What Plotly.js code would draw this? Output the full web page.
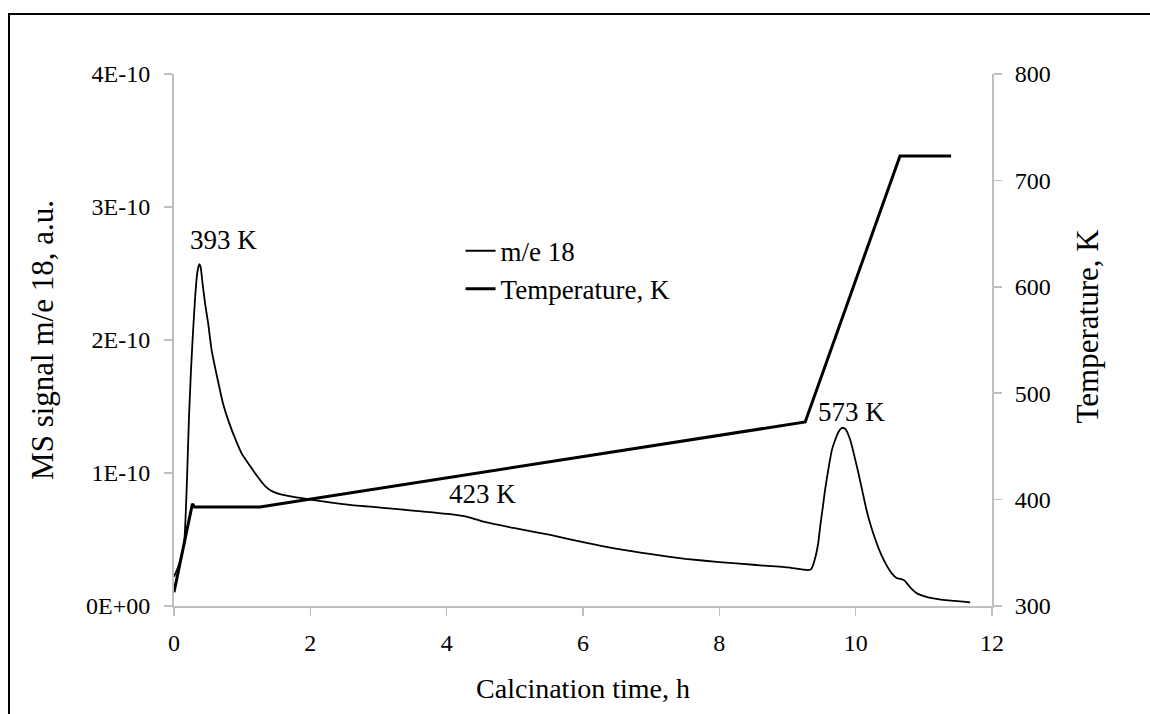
<!DOCTYPE html>
<html>
<head>
<meta charset="utf-8">
<script src="https://cdn.plot.ly/plotly-3.0.1.min.js"></script>
<style>
  html, body { margin: 0; padding: 0; background: #fff; }
  #wrap { position: relative; width: 1150px; height: 714px; overflow: hidden; }
  #chart { position: absolute; left: 0; top: 0; width: 1150px; height: 714px; }
  #frame { position: absolute; left: 8px; top: 13px; width: 1200px; height: 800px;
           border-left: 2px solid #000; border-top: 2px solid #000; pointer-events: none; }
</style>
</head>
<body>
<div id="wrap">
  <div id="chart"></div>
  <div id="frame"></div>
</div>
<script>
// MS signal for m/e 18 (water) during calcination, a.u.
const msTime = [0, 0.05, 0.1, 0.15, 0.18, 0.2, 0.22, 0.25, 0.28, 0.31, 0.34, 0.37, 0.39, 0.42,
  0.46, 0.5, 0.55, 0.6, 0.65, 0.72, 0.8, 0.92, 1.0, 1.12, 1.2, 1.34, 1.45, 1.6, 2.0, 2.58,
  3.32, 4.05, 4.3, 4.54, 5.0, 5.52, 6.0, 6.5, 7.0, 7.5, 8.0, 8.5, 9.0, 9.3,
  9.35, 9.4, 9.45, 9.48, 9.52, 9.55, 9.6, 9.65, 9.7, 9.75, 9.8, 9.85, 9.92, 9.98,
  10.04, 10.1, 10.16, 10.23, 10.31, 10.38, 10.46, 10.53, 10.6, 10.68, 10.72, 10.8,
  10.9, 11.0, 11.14, 11.4, 11.68];
const msSignal = [0.22e-10, 0.28e-10, 0.36e-10, 0.48e-10, 0.8e-10, 1.1e-10, 1.42e-10, 1.78e-10,
  2.07e-10, 2.32e-10, 2.5e-10, 2.57e-10, 2.55e-10, 2.42e-10,
  2.26e-10, 2.13e-10, 1.93e-10, 1.80e-10, 1.68e-10, 1.52e-10, 1.39e-10, 1.23e-10, 1.14e-10,
  1.05e-10, 0.99e-10, 0.9e-10, 0.86e-10, 0.835e-10, 0.8e-10, 0.76e-10,
  0.727e-10, 0.69e-10, 0.67e-10, 0.634e-10, 0.585e-10, 0.534e-10, 0.48e-10, 0.43e-10,
  0.39e-10, 0.355e-10, 0.33e-10, 0.31e-10, 0.29e-10, 0.27e-10,
  0.28e-10, 0.35e-10, 0.47e-10, 0.6e-10, 0.75e-10, 0.87e-10, 1.03e-10, 1.17e-10, 1.25e-10,
  1.31e-10, 1.34e-10, 1.33e-10, 1.25e-10, 1.13e-10,
  1.0e-10, 0.86e-10, 0.72e-10, 0.59e-10, 0.47e-10, 0.38e-10, 0.3e-10, 0.245e-10, 0.21e-10,
  0.2e-10, 0.19e-10, 0.14e-10,
  0.095e-10, 0.075e-10, 0.058e-10, 0.04e-10, 0.028e-10];

// Furnace temperature programme, K
const tempTime = [0, 0.27, 0.3, 1.26, 9.26, 10.65, 11.4];
const tempK = [313, 396, 393, 393, 473, 723, 723];

// Axis ticks
const xTicks = [0, 2, 4, 6, 8, 10, 12];
const msTickVals = [0, 1e-10, 2e-10, 3e-10, 4e-10];
const msTickText = ['0E+00', '1E-10', '2E-10', '3E-10', '4E-10'];
const tempTicks = [300, 400, 500, 600, 700, 800];

// Peak temperature notes: [time, signal, text]
const noteTime = [0.72, 4.52, 9.94];
const noteSignal = [2.75e-10, 0.84e-10, 1.46e-10];
const noteText = ['393 K', '423 K', '573 K'];

const FONT = "'Liberation Serif', 'Times New Roman', serif";
const AXIS_GREY = '#bfbfbf';

const traces = [
  {
    x: msTime, y: msSignal, name: 'm/e 18', type: 'scatter', mode: 'lines',
    line: { color: '#000', width: 1.8, shape: 'spline', smoothing: 0.5 }, yaxis: 'y'
  },
  {
    x: tempTime, y: tempK, name: 'Temperature, K', type: 'scatter', mode: 'lines',
    line: { color: '#000', width: 3 }, yaxis: 'y2'
  }
];

const annotations = noteText.map((t, i) => ({
  x: noteTime[i], y: noteSignal[i], xref: 'x', yref: 'y', text: t,
  showarrow: false, xanchor: 'center', yanchor: 'middle',
  font: { family: FONT, size: 27, color: '#000' }
}));

// Right-hand axis title
annotations.push({
  x: 1.1165, y: 0.526, xref: 'paper', yref: 'paper', text: 'Temperature, K',
  textangle: -90, showarrow: false, xanchor: 'center', yanchor: 'middle',
  font: { family: FONT, size: 31, color: '#000' }
});

const layout = {
  width: 1150, height: 714,
  margin: { l: 174, r: 158, t: 74, b: 108 },
  paper_bgcolor: 'rgba(0,0,0,0)', plot_bgcolor: 'rgba(0,0,0,0)',
  font: { family: FONT, color: '#000', size: 24 },
  showlegend: true,
  legend: {
    x: 0.3503, y: 0.713, xanchor: 'left', yanchor: 'top',
    bgcolor: 'rgba(0,0,0,0)', borderwidth: 0,
    font: { family: FONT, size: 27, color: '#000' }
  },
  xaxis: {
    range: [0, 12], tickvals: xTicks, ticktext: xTicks.map(String),
    showgrid: false, zeroline: false, showline: true, linecolor: AXIS_GREY, linewidth: 2,
    ticks: 'outside', ticklen: 8, tickwidth: 1.5, tickcolor: AXIS_GREY,
    ticklabelstandoff: 6,
    tickfont: { family: FONT, size: 24, color: '#000' },
    title: { text: 'Calcination time, h', font: { family: FONT, size: 28, color: '#000' }, standoff: 24 }
  },
  yaxis: {
    range: [0, 4e-10], tickvals: msTickVals, ticktext: msTickText,
    showgrid: false, zeroline: false, showline: true, linecolor: AXIS_GREY, linewidth: 2,
    ticks: 'outside', ticklen: 8, tickwidth: 1.5, tickcolor: AXIS_GREY,
    ticklabelstandoff: 9,
    tickfont: { family: FONT, size: 24, color: '#000' },
    title: { text: 'MS signal m/e 18, a.u.', font: { family: FONT, size: 31, color: '#000' }, standoff: 23 }
  },
  yaxis2: {
    range: [300, 800], tickvals: tempTicks, ticktext: tempTicks.map(String),
    overlaying: 'y', side: 'right', anchor: 'x',
    showgrid: false, zeroline: false, showline: true, linecolor: AXIS_GREY, linewidth: 2,
    ticks: 'outside', ticklen: 8, tickwidth: 1.5, tickcolor: AXIS_GREY,
    ticklabelstandoff: 8,
    tickfont: { family: FONT, size: 24, color: '#000' }
  },
  yaxis3: {
    range: [300, 800], tickvals: tempTicks, overlaying: 'y', side: 'right', anchor: 'x',
    showgrid: false, zeroline: false, showline: false, showticklabels: false,
    ticks: 'inside', ticklen: 8, tickwidth: 1.5, tickcolor: AXIS_GREY
  },
  annotations: annotations
};

Plotly.newPlot('chart', traces, layout, { staticPlot: true, displayModeBar: false });
</script>
</body>
</html>
